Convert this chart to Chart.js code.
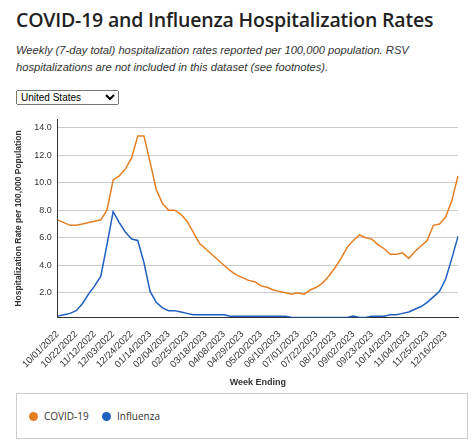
<!DOCTYPE html>
<html><head><meta charset="utf-8">
<script src="https://cdn.jsdelivr.net/npm/chart.js@4"></script>
<style>
body{margin:0;font-family:"Open Sans",Arial,sans-serif;background:#fff;width:474px;height:443px;overflow:hidden;position:relative}
h1{position:absolute;left:16px;top:6px;margin:0;font-size:19.5px;font-weight:600;color:#222;white-space:nowrap;letter-spacing:-0.2px}
p{position:absolute;left:16px;top:42px;margin:0;width:455px;font-family:"Liberation Sans",Arial,sans-serif;font-size:11.2px;font-style:italic;color:#333;line-height:17px}
select{position:absolute;left:16px;top:90px;width:103px;height:15px;font-size:10px;padding:0}
#wrap{position:absolute;left:0;top:108px;width:474px;height:284px}
#leg{position:absolute;left:16px;top:393px;width:450px;height:44px;border:1px solid #ccc;font-size:10px;color:#333}
.it{position:absolute;top:15px;display:flex;align-items:center}
.dot{width:9px;height:9px;border-radius:50%;display:inline-block;margin-right:6px}
</style></head><body>
<h1>COVID-19 and Influenza Hospitalization Rates</h1>
<p>Weekly (7-day total) hospitalization rates reported per 100,000 population. RSV hospitalizations are not included in this dataset (see footnotes).</p>
<select><option>United States</option></select>
<div id="wrap"><canvas id="c"></canvas></div>
<div id="leg"><span class="it" style="left:12px"><span class="dot" style="background:#e67e22"></span>COVID-19</span><span class="it" style="left:85px"><span class="dot" style="background:#1f5fbf"></span>Influenza</span></div>
<script>
const weeks=["10/01/2022","10/08/2022","10/15/2022","10/22/2022","10/29/2022","11/05/2022","11/12/2022","11/19/2022","11/26/2022","12/03/2022","12/10/2022","12/17/2022","12/24/2022","12/31/2022","01/07/2023","01/14/2023","01/21/2023","01/28/2023","02/04/2023","02/11/2023","02/18/2023","02/25/2023","03/04/2023","03/11/2023","03/18/2023","03/25/2023","04/01/2023","04/08/2023","04/15/2023","04/22/2023","04/29/2023","05/06/2023","05/13/2023","05/20/2023","05/27/2023","06/03/2023","06/10/2023","06/17/2023","06/24/2023","07/01/2023","07/08/2023","07/15/2023","07/22/2023","07/29/2023","08/05/2023","08/12/2023","08/19/2023","08/26/2023","09/02/2023","09/09/2023","09/16/2023","09/23/2023","09/30/2023","10/07/2023","10/14/2023","10/21/2023","10/28/2023","11/04/2023","11/11/2023","11/18/2023","11/25/2023","12/02/2023","12/09/2023","12/16/2023","12/23/2023","12/30/2023"];
const covid=[7.3,7.1,6.9,6.9,7.0,7.1,7.2,7.3,8.0,10.2,10.5,11.0,11.8,13.4,13.4,11.5,9.5,8.5,8.0,8.0,7.7,7.2,6.4,5.6,5.2,4.8,4.4,4.0,3.6,3.3,3.1,2.9,2.8,2.5,2.4,2.2,2.1,2.0,1.9,2.0,1.9,2.2,2.4,2.7,3.2,3.8,4.5,5.3,5.8,6.2,6.0,5.9,5.5,5.2,4.8,4.8,4.9,4.5,5.0,5.4,5.8,6.9,7.0,7.5,8.7,10.5];
const flu=[0.3,0.4,0.5,0.7,1.2,1.9,2.5,3.2,5.5,7.9,7.1,6.4,5.9,5.8,4.2,2.1,1.3,0.9,0.7,0.7,0.6,0.5,0.4,0.4,0.4,0.4,0.4,0.4,0.3,0.3,0.3,0.3,0.3,0.3,0.3,0.3,0.3,0.3,0.2,0.2,0.2,0.2,0.2,0.2,0.2,0.2,0.2,0.2,0.3,0.2,0.2,0.3,0.3,0.3,0.4,0.4,0.5,0.6,0.8,1.0,1.3,1.7,2.1,3.0,4.5,6.1];
const yTicks=[2,4,6,8,10,12,14];
new Chart(document.getElementById('c'),{type:'line',
data:{labels:weeks,datasets:[
{label:'COVID-19',data:covid,borderColor:'#e67e22',borderWidth:1.5,pointRadius:0,tension:0},
{label:'Influenza',data:flu,borderColor:'#1f5fbf',borderWidth:1.5,pointRadius:0,tension:0}]},
options:{responsive:true,maintainAspectRatio:false,animation:false,
layout:{padding:{left:10,right:16,top:4}},
plugins:{legend:{display:false},tooltip:{enabled:false}},
scales:{
x:{grid:{display:false,drawTicks:true},border:{color:'#333'},
ticks:{autoSkip:false,maxRotation:45,minRotation:45,font:{size:9.5,family:'Arial'},color:'#333',
callback:(v,i)=>i%3===0?weeks[i]:''},
title:{display:true,text:'Week Ending',font:{size:9,weight:'bold',family:'Arial'},color:'#333'}},
y:{min:0.2,max:14.6,afterBuildTicks:a=>{a.ticks=yTicks.map(v=>({value:v}));},
grid:{color:'#ccc',drawTicks:false},border:{display:true,color:'#333'},
ticks:{padding:6,font:{size:9,family:'Arial'},color:'#333',callback:v=>v.toFixed(1)},
title:{display:true,text:'Hospitalization Rate per 100,000 Population',font:{size:8.5,weight:'bold',family:'Arial'},color:'#333'}}}}});
</script></body></html>
